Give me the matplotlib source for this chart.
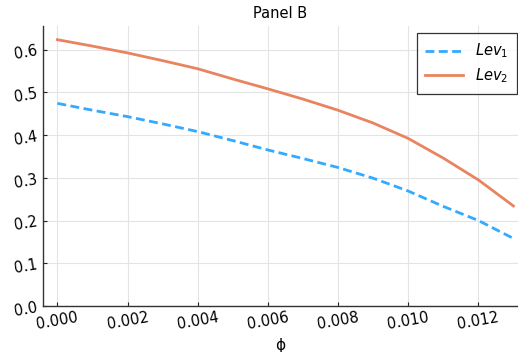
import matplotlib.pyplot as plt
import numpy as np

phi = [0.000, 0.001, 0.002, 0.003, 0.004, 0.005, 0.006, 0.007,
       0.008, 0.009, 0.010, 0.011, 0.012, 0.013]
lev1 = [0.474, 0.458, 0.443, 0.426, 0.408, 0.387, 0.365, 0.345,
        0.324, 0.299, 0.269, 0.233, 0.200, 0.158]
lev2 = [0.623, 0.608, 0.592, 0.574, 0.555, 0.531, 0.508, 0.484,
        0.458, 0.428, 0.392, 0.346, 0.295, 0.234]
xticks = [0.000, 0.002, 0.004, 0.006, 0.008, 0.010, 0.012]
yticks = [0.0, 0.1, 0.2, 0.3, 0.4, 0.5, 0.6]


def make_plot():
    fig = plt.figure(figsize=(5.18, 3.52), dpi=100)
    ax = fig.add_axes([43 / 518, 46 / 352, 475 / 518, 280 / 352])

    ax.plot(phi, lev1, color='#33aaff', lw=2.0, ls=(0, (3.2, 1.6)), label='$Lev_1$')
    ax.plot(phi, lev2, color='#e8845f', lw=2.0, label='$Lev_2$')

    ax.set_xlim(-0.00041, 0.01313)
    ax.set_ylim(0, 0.655)
    ax.set_xticks(xticks)
    ax.set_xticklabels([f'{t:.3f}' for t in xticks], rotation=10)
    ax.set_yticks(yticks)
    ax.set_yticklabels([f'{t:.1f}' for t in yticks], rotation=10)
    ax.tick_params(direction='in', length=3, width=0.8, labelsize=10.5, pad=3, colors='#222222')
    ax.tick_params(axis='x', labelcolor='black')
    ax.tick_params(axis='y', labelcolor='black')
    ax.grid(True, color='#e4e4e4', lw=0.8)
    ax.set_axisbelow(True)
    for s in ['top', 'right']:
        ax.spines[s].set_visible(False)
    for s in ['left', 'bottom']:
        ax.spines[s].set_color('#333333')
        ax.spines[s].set_linewidth(1.0)

    ax.set_title('Panel B', fontsize=10.5, pad=6)
    ax.set_xlabel('ϕ', fontsize=11, labelpad=4)

    leg = ax.legend(loc='upper right', bbox_to_anchor=(0.998, 0.975), borderaxespad=0,
                    fontsize=10.5, frameon=True, fancybox=False, edgecolor='black',
                    handlelength=2.6, borderpad=0.6, labelspacing=0.4)
    leg.get_frame().set_linewidth(0.9)

    fig.savefig('out.png', dpi=100)


if __name__ == '__main__':
    make_plot()
